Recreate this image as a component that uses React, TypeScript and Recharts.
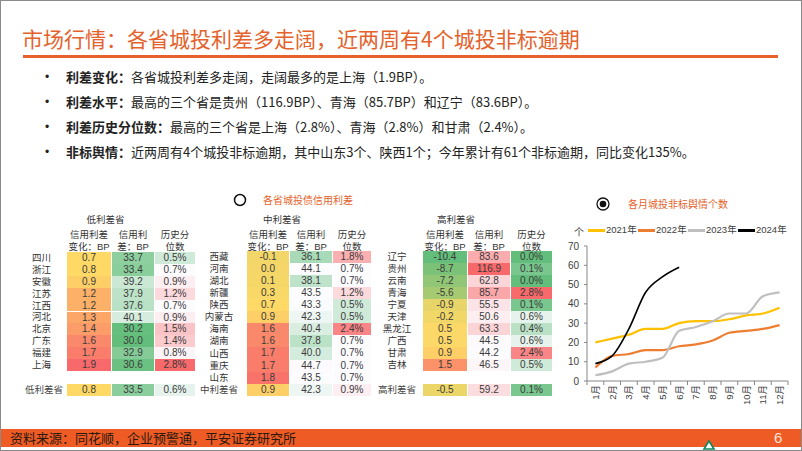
import React from "react";
import { LineChart, Line, XAxis, YAxis } from "recharts";

// ---- chart data ----
const months = ["1月", "2月", "3月", "4月", "5月", "6月", "7月", "8月", "9月", "10月", "11月", "12月"];
const y2021 = [20, 22, 24, 27, 27, 30, 31, 31, 32, 34, 35, 38];
const y2022 = [7, 13, 14, 16, 16, 18, 19, 21, 25, 26, 27, 29];
const y2023 = [3, 5, 9, 10, 12, 26, 28, 31, 35, 35, 44, 46];
const y2024 = [9, 13, 27, 46, 54, 59];
const yTicks = [0, 10, 20, 30, 40, 50, 60, 70];

const seriesNames = ["2021年", "2022年", "2023年", "2024年"];
const seriesKeys = ["y2021", "y2022", "y2023", "y2024"];
const seriesColors = ["#FFC000", "#ED7D31", "#BFBFBF", "#000000"];

// ---- table data ----
const lowProvinces = ["四川", "浙江", "安徽", "江苏", "江西", "河北", "北京", "广东", "福建", "上海"];
const lowChange = [0.7, 0.8, 0.9, 1.2, 1.2, 1.3, 1.4, 1.6, 1.7, 1.9];
const lowSpread = [33.7, 33.4, 39.2, 37.9, 37.6, 40.1, 30.2, 30.0, 32.9, 30.6];
const lowPct = [0.5, 0.7, 0.9, 1.2, 0.7, 0.9, 1.5, 1.4, 0.8, 2.8];
const lowSummary = [0.8, 33.5, 0.6];

const midProvinces = ["西藏", "河南", "湖北", "新疆", "陕西", "内蒙古", "海南", "湖南", "山西", "重庆", "山东"];
const midChange = [-0.1, 0.0, 0.1, 0.3, 0.7, 0.9, 1.6, 1.6, 1.7, 1.7, 1.8];
const midSpread = [36.1, 44.1, 38.1, 43.5, 43.3, 42.3, 40.4, 37.8, 40.0, 44.7, 43.5];
const midPct = [1.8, 0.7, 0.7, 1.2, 0.5, 0.5, 2.4, 0.7, 0.7, 0.7, 0.7];
const midSummary = [0.9, 42.3, 0.9];

const highProvinces = ["辽宁", "贵州", "云南", "青海", "宁夏", "天津", "黑龙江", "广西", "甘肃", "吉林"];
const highChange = [-10.4, -8.7, -7.2, -5.6, -0.9, -0.2, 0.5, 0.5, 0.9, 1.5];
const highSpread = [83.6, 116.9, 62.8, 85.7, 55.5, 50.6, 63.3, 44.5, 44.2, 46.5];
const highPct = [0.0, 0.1, 0.0, 2.8, 0.1, 0.6, 0.4, 0.6, 2.4, 0.5];
const highSummary = [-0.5, 59.2, 0.1];

const FONT = "'Liberation Sans', 'Noto Sans CJK SC', sans-serif";
const CJK = "'Noto Sans CJK SC', sans-serif";
const ORANGE = "#E4622B";

function hex(c: string) {
  return [1, 3, 5].map((i) => parseInt(c.slice(i, i + 2), 16));
}
function mix(a: string, b: string, t: number) {
  const A = hex(a), B = hex(b);
  const k = Math.max(0, Math.min(1, t));
  return `rgb(${A.map((v, i) => Math.round(v + (B[i] - v) * k)).join(",")})`;
}
function scale3(v: number, min: number, mid: number, max: number, lo: string, m: string, hi: string) {
  if (v <= mid) return mix(m, lo, (mid - v) / (mid - min));
  return mix(m, hi, (v - mid) / (max - mid));
}
const GREEN = "#63BE7B", RED = "#F8696B", WHITE = "#FCFCFF", YELLOW = "#FFD966";
const changeColor = (v: number) => scale3(v, -10.4, 0.8, 1.9, GREEN, YELLOW, RED);
const spreadColor = (v: number) => scale3(v, 30.0, 43.5, 116.9, GREEN, WHITE, RED);
const pctColor = (v: number) => scale3(v, 0, 0.7, 2.8, GREEN, WHITE, RED);

type TableProps = {
  group: string;
  labels: string[];
  change: number[];
  spread: number[];
  pct: number[];
  summary: number[];
  summaryLabel: string;
  labelCx: number;
  colX: number[];
  colW: number[];
  rowTop: number;
  rowH: number;
  summaryTop: number;
  summaryLabelRight: number;
  groupCx: number;
};

const abs = (s: React.CSSProperties): React.CSSProperties => ({ position: "absolute", ...s });

function CenterText({ cx, cy, text, size = 10, color = "#333", w = 60 }: any) {
  return (
    <div
      style={abs({
        left: cx - w / 2, top: cy - 7, width: w, height: 14, lineHeight: "14px",
        textAlign: "center", fontSize: size, color, whiteSpace: "nowrap",
      })}
    >
      {text}
    </div>
  );
}

function SpreadTable(p: TableProps) {
  const cols = [p.change, p.spread, p.pct];
  const colors = [changeColor, spreadColor, pctColor];
  const fmt = [(v: number) => v.toFixed(1), (v: number) => v.toFixed(1), (v: number) => v.toFixed(1) + "%"];
  const heads = [["信用利差", "变化：BP"], ["信用利", "差：BP"], ["历史分", "位数"]];
  const cellRow = (vals: number[], top: number, h: number, key: string) =>
    vals.map((v, ci) => (
      <div
        key={key + ci}
        style={abs({
          left: p.colX[ci], top, width: p.colW[ci], height: h, background: colors[ci](v),
          fontSize: 10, color: "#3a3a3a", textAlign: "center", lineHeight: h + "px",
        })}
      >
        {fmt[ci](v)}
      </div>
    ));
  return (
    <>
      <CenterText cx={p.groupCx} cy={220} text={p.group} size={9.5} />
      {heads.map((h, ci) => (
        <React.Fragment key={ci}>
          <CenterText cx={p.colX[ci] + p.colW[ci] / 2} cy={235} text={h[0]} size={9.5} />
          <CenterText cx={p.colX[ci] + p.colW[ci] / 2} cy={247} text={h[1]} size={9.5} />
        </React.Fragment>
      ))}
      {p.labels.map((lab, i) => (
        <React.Fragment key={lab}>
          <CenterText cx={p.labelCx} cy={p.rowTop + p.rowH * (i + 0.5)} text={lab} size={9.5} />
          {cellRow([cols[0][i], cols[1][i], cols[2][i]], p.rowTop + p.rowH * i, p.rowH, lab)}
        </React.Fragment>
      ))}
      <div
        style={abs({
          left: p.summaryLabelRight - 60, top: p.summaryTop, width: 60, height: 12, lineHeight: "12px",
          textAlign: "right", fontSize: 9.5, color: "#444",
        })}
      >
        {p.summaryLabel}
      </div>
      {cellRow(p.summary, p.summaryTop, 12, "s")}
    </>
  );
}

const chartData = months.map((m, i) => ({
  month: m,
  y2021: y2021[i],
  y2022: y2022[i],
  y2023: y2023[i],
  y2024: i < y2024.length ? y2024[i] : null,
}));

const HALF = 8.375;

function MonthTick(props: any) {
  const { x, y, payload, index } = props;
  return (
    <g>
      <line x1={x - HALF} y1={y} x2={x - HALF} y2={y + 4} stroke="#868686" />
      {index === months.length - 1 && <line x1={x + HALF} y1={y} x2={x + HALF} y2={y + 4} stroke="#868686" />}
      <text
        x={x + 3.5}
        y={y + 4}
        transform={`rotate(-90, ${x + 3.5}, ${y + 4})`}
        textAnchor="end"
        fontSize={9.5}
        fill="#404040"
        fontFamily={FONT}
      >
        {payload.value}
      </text>
    </g>
  );
}

const bullets: [string, string][] = [
  ["利差变化：", "各省城投利差多走阔，走阔最多的是上海（1.9BP）。"],
  ["利差水平：", "最高的三个省是贵州（116.9BP）、青海（85.7BP）和辽宁（83.6BP）。"],
  ["利差历史分位数：", "最高的三个省是上海（2.8%）、青海（2.8%）和甘肃（2.4%）。"],
  ["非标舆情：", "近两周有4个城投非标逾期，其中山东3个、陕西1个；今年累计有61个非标逾期，同比变化135%。"],
];
const bulletY = [77, 102, 127, 152];

export default function App() {
  return (
    <div style={abs({ left: 0, top: 0, width: 802, height: 451, background: "#fff", overflow: "hidden", fontFamily: FONT })}>
      {/* title */}
      <div style={abs({ left: 22, top: 24, height: 28, lineHeight: "28px", fontSize: 21, color: ORANGE, fontFamily: CJK, whiteSpace: "nowrap" })}>
        市场行情：各省城投利差多走阔，近两周有4个城投非标逾期
      </div>
      <div style={abs({ left: 23, top: 55, width: 755, height: 2.5, background: "#E8602C" })} />

      {/* bullets */}
      {bullets.map(([b, t], i) => (
        <React.Fragment key={i}>
          <div style={abs({ left: 45, top: bulletY[i] - 8, lineHeight: "16px", fontSize: 12, color: "#222" })}>•</div>
          <div style={abs({ left: 66, top: bulletY[i] - 8, lineHeight: "16px", fontSize: 13, color: "#222", whiteSpace: "nowrap", fontFamily: CJK })}>
            <span style={{ fontWeight: 700 }}>{b}</span>
            {t}
          </div>
        </React.Fragment>
      ))}

      {/* section headers */}
      <svg style={abs({ left: 230, top: 190 })} width={20} height={20}>
        <circle cx={10} cy={10} r={5.5} fill="none" stroke="#111" strokeWidth={1.5} />
      </svg>
      <div style={abs({ left: 263, top: 192, lineHeight: "16px", fontSize: 10, color: ORANGE, fontFamily: CJK })}>各省城投债信用利差</div>
      <svg style={abs({ left: 593, top: 194 })} width={20} height={20}>
        <circle cx={10} cy={10} r={6} fill="none" stroke="#111" strokeWidth={1.3} />
        <circle cx={10} cy={10} r={3.3} fill="#111" />
      </svg>
      <div style={abs({ left: 628, top: 196, lineHeight: "16px", fontSize: 10, color: ORANGE, fontFamily: CJK })}>各月城投非标舆情个数</div>

      {/* tables */}
      <SpreadTable
        group="低利差省" labels={lowProvinces} change={lowChange} spread={lowSpread} pct={lowPct}
        summary={lowSummary} summaryLabel="低利差省" labelCx={41.5} colX={[67, 112, 155]} colW={[44, 42, 40]}
        rowTop={252} rowH={11.9} summaryTop={384} summaryLabelRight={63} groupCx={105.5}
      />
      <SpreadTable
        group="中利差省" labels={midProvinces} change={midChange} spread={midSpread} pct={midPct}
        summary={midSummary} summaryLabel="中利差省" labelCx={219} colX={[247, 290, 333]} colW={[42, 42, 38]}
        rowTop={251} rowH={12.06} summaryTop={384} summaryLabelRight={238} groupCx={282}
      />
      <SpreadTable
        group="高利差省" labels={highProvinces} change={highChange} spread={highSpread} pct={highPct}
        summary={highSummary} summaryLabel="高利差省" labelCx={397} colX={[423, 468, 511]} colW={[44, 42, 41]}
        rowTop={251} rowH={12} summaryTop={384} summaryLabelRight={416} groupCx={456}
      />

      {/* line chart */}
      <div style={abs({ left: 574, top: 225, fontSize: 10, color: "#404040", lineHeight: "14px", fontFamily: CJK })}>个</div>
      {seriesNames.map((n, i) => (
        <React.Fragment key={n}>
          <div style={abs({ left: 588 + i * 50, top: 229, width: 17, height: 2.5, background: seriesColors[i] })} />
          <div style={abs({ left: 606 + i * 50, top: 223, fontSize: 9.5, lineHeight: "14px", color: "#404040" })}>{n}</div>
        </React.Fragment>
      ))}
      <div style={abs({ left: 555, top: 215 })}>
        <LineChart width={238} height={190} data={chartData} margin={{ top: 31, right: 5, bottom: 2, left: 0 }}>
          <XAxis
            dataKey="month"
            interval={0}
            padding={{ left: HALF, right: HALF }}
            axisLine={{ stroke: "#868686" }}
            tickLine={false}
            tickSize={0}
            tickMargin={0}
            height={22}
            tick={<MonthTick />}
          />
          <YAxis
            domain={[0, 70]}
            ticks={yTicks}
            interval={0}
            width={32}
            axisLine={{ stroke: "#868686" }}
            tickLine={{ stroke: "#868686" }}
            tickSize={3}
            tickMargin={5}
            tick={{ fontSize: 10, fill: "#404040", fontFamily: FONT }}
          />
          {seriesKeys.map((k, i) => (
            <Line
              key={k}
              dataKey={k}
              type="monotone"
              stroke={seriesColors[i]}
              strokeWidth={i === 3 ? 1.6 : 2.2}
              dot={false}
              isAnimationActive={false}
              connectNulls={false}
            />
          ))}
        </LineChart>
      </div>

      {/* footer */}
      <div style={abs({ left: 0, top: 429, width: 802, height: 18, background: "#EF5B25" })} />
      <div style={abs({ left: 10, top: 429, height: 18, lineHeight: "18px", fontSize: 13, color: "#2a1a10", fontFamily: CJK, whiteSpace: "nowrap" })}>
        资料来源：同花顺，企业预警通，平安证券研究所
      </div>
      <div style={abs({ left: 774, top: 429, height: 18, lineHeight: "18px", fontSize: 15, color: "#FCE4D6" })}>6</div>
      <svg style={abs({ left: 702, top: 440 })} width={14} height={10}>
        <polygon points="7,1 12,9 2,9" fill="#fff" stroke="#0B8A5C" strokeWidth={1.6} />
      </svg>

      {/* page frame */}
      <div style={abs({ left: 0, top: 0, width: 802, height: 451, boxSizing: "border-box", border: "1px solid #8a8a8a", pointerEvents: "none" })} />
    </div>
  );
}
